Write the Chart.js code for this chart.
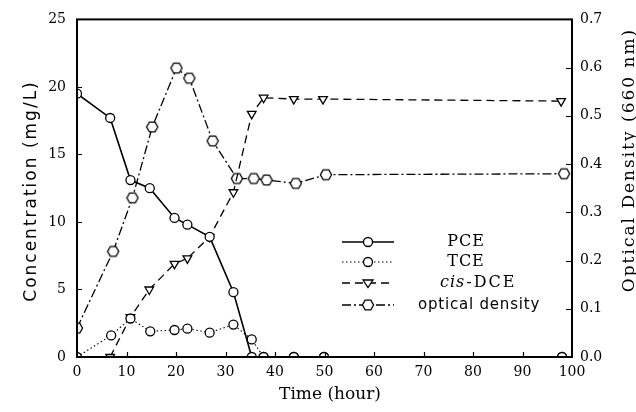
<!DOCTYPE html>
<html>
<head>
<meta charset="utf-8">
<script src="https://cdn.jsdelivr.net/npm/chart.js@4.4.1/dist/chart.umd.min.js"></script>
<style>
  html, body { margin: 0; padding: 0; background: #fff; overflow: hidden; }
  canvas { display: block; background: #fff; }
</style>
</head>
<body>
<canvas id="chart" width="636" height="412"></canvas>
<script>
// values (time in hours)
const pceTime = [0, 6.7, 10.8, 14.7, 19.7, 22.3, 26.8, 31.6, 35.3, 37.7, 43.8, 49.9, 98];
const pceConc = [19.5, 17.7, 13.1, 12.5, 10.3, 9.8, 8.9, 4.8, 0, 0, 0, 0, 0];

const tceTime = [0, 6.9, 10.8, 14.8, 19.7, 22.3, 26.8, 31.6, 35.3, 37.7, 43.8, 49.9, 98];
const tceConc = [0, 1.6, 2.85, 1.9, 2.0, 2.1, 1.8, 2.4, 1.3, 0, 0, 0, 0];

const dceTime = [6.7, 10.8, 14.6, 19.7, 22.3, 26.8, 31.6, 35.3, 37.7, 43.8, 49.7, 97.8];
const dceConc = [0, 2.95, 5.0, 6.9, 7.3, 8.9, 12.2, 18.0, 19.2, 19.1, 19.1, 18.95];

const odTime = [0, 7.3, 11.2, 15.2, 20.1, 22.7, 27.4, 32.3, 35.7, 38.3, 44.2, 50.3, 98.4];
const odValue = [0.06, 0.219, 0.33, 0.477, 0.599, 0.578, 0.448, 0.37, 0.37, 0.367, 0.36, 0.378, 0.38];

const timeTicks = [0, 10, 20, 30, 40, 50, 60, 70, 80, 90, 100];
const concTicks = [0, 5, 10, 15, 20, 25];
const odTicks = [0, 0.1, 0.2, 0.3, 0.4, 0.5, 0.6, 0.7];

const toPoints = (xs, ys) => xs.map((x, i) => ({ x: x, y: ys[i] }));

// hexagon marker for optical density
const hexMarker = document.createElement("canvas");
hexMarker.width = 14;
hexMarker.height = 14;
(function () {
  const c = hexMarker.getContext("2d");
  const r = 5.6;
  c.beginPath();
  for (let k = 0; k < 6; k++) {
    const a = (Math.PI / 3) * k;
    const px = 7 + r * Math.cos(a);
    const py = 7 + r * Math.sin(a);
    if (k === 0) c.moveTo(px, py); else c.lineTo(px, py);
  }
  c.closePath();
  c.fillStyle = "#fff";
  c.fill();
  c.lineWidth = 1.3;
  c.strokeStyle = "#000";
  c.stroke();
})();

const serif = "'DejaVu Serif', serif";
const sans = "'DejaVu Sans', sans-serif";

const pointStyleFor = {
  circle: { pointStyle: "circle", pointRadius: 4.5, pointRotation: 0 },
  tri: { pointStyle: "triangle", pointRadius: 5, pointRotation: 180 },
  hex: { pointStyle: hexMarker, pointRadius: 6, pointRotation: 0 },
};

function series(data, yAxisID, width, dash, marker) {
  return Object.assign({
    data: data,
    yAxisID: yAxisID,
    borderColor: "#000",
    borderWidth: width,
    borderDash: dash,
    tension: 0,
    fill: false,
    pointBackgroundColor: "#fff",
    pointBorderColor: "#000",
    pointBorderWidth: 1.3,
  }, pointStyleFor[marker]);
}

const legendItems = [
  { label: "PCE", y: 242, width: 1.6, dash: [], marker: "circle" },
  { label: "TCE", y: 262, width: 1.1, dash: [1.5, 2.5], marker: "circle" },
  { label: "cis-DCE", y: 283, width: 1.3, dash: [8, 5], marker: "tri" },
  { label: "optical density", y: 305, width: 1.3, dash: [9, 3, 2, 3], marker: "hex" },
];

function drawMarker(ctx, kind, x, y) {
  if (kind === "hex") {
    ctx.drawImage(hexMarker, x - 7, y - 7);
    return;
  }
  ctx.save();
  ctx.setLineDash([]);
  ctx.fillStyle = "#fff";
  ctx.strokeStyle = "#000";
  ctx.lineWidth = 1.3;
  ctx.beginPath();
  if (kind === "tri") {
    ctx.moveTo(x - 5, y - 3);
    ctx.lineTo(x + 5, y - 3);
    ctx.lineTo(x, y + 4.5);
    ctx.closePath();
  } else {
    ctx.arc(x, y, 4.5, 0, Math.PI * 2);
  }
  ctx.fill();
  ctx.stroke();
  ctx.restore();
}

const decorations = {
  id: "decorations",
  afterDraw(chart) {
    const { ctx, chartArea: a, scales } = chart;
    ctx.save();

    // frame
    ctx.strokeStyle = "#000";
    ctx.lineWidth = 2;
    ctx.strokeRect(a.left, a.top, a.right - a.left, a.bottom - a.top);

    // inner ticks
    ctx.lineWidth = 1.2;
    ctx.beginPath();
    timeTicks.forEach((v) => {
      if (v <= 0 || v >= 100) return;
      const px = Math.round(scales.x.getPixelForValue(v)) + 0.5;
      ctx.moveTo(px, a.bottom);
      ctx.lineTo(px, a.bottom - 5);
    });
    concTicks.forEach((v) => {
      if (v <= 0 || v >= 25) return;
      const py = Math.round(scales.y.getPixelForValue(v)) + 0.5;
      ctx.moveTo(a.left, py);
      ctx.lineTo(a.left + 5, py);
    });
    odTicks.forEach((v) => {
      if (v <= 0 || v >= 0.7) return;
      const py = Math.round(scales.y1.getPixelForValue(v)) + 0.5;
      ctx.moveTo(a.right, py);
      ctx.lineTo(a.right - 6, py);
    });
    ctx.stroke();

    // axis titles
    ctx.fillStyle = "#000";
    ctx.textAlign = "center";
    ctx.textBaseline = "middle";

    ctx.font = "17px " + serif;
    ctx.letterSpacing = "0px";
    ctx.fillText("Time (hour)", 330, 395);

    ctx.save();
    ctx.translate(32, 191);
    ctx.rotate(-Math.PI / 2);
    ctx.font = "17px " + sans;
    ctx.letterSpacing = "2px";
    ctx.fillText("Concentration (mg/L)", 0, 0);
    ctx.restore();

    ctx.save();
    ctx.translate(630, 160);
    ctx.rotate(-Math.PI / 2);
    ctx.font = "17px " + serif;
    ctx.letterSpacing = "2px";
    ctx.fillText("Optical Density (660 nm)", 0, 0);
    ctx.restore();

    // legend
    ctx.letterSpacing = "0px";
    legendItems.forEach((item) => {
      ctx.save();
      ctx.lineWidth = item.width;
      ctx.setLineDash(item.dash);
      ctx.beginPath();
      ctx.moveTo(342, item.y);
      ctx.lineTo(394, item.y);
      ctx.stroke();
      ctx.restore();
      drawMarker(ctx, item.marker, 368, item.y);

      ctx.textAlign = "left";
      if (item.label === "cis-DCE") {
        ctx.font = "italic 16px " + serif;
        ctx.letterSpacing = "1px";
        ctx.fillText("cis", 440, item.y);
        const w = ctx.measureText("cis").width;
        ctx.font = "16px " + serif;
        ctx.letterSpacing = "2px";
        ctx.fillText("-DCE", 440 + w + 1, item.y);
      } else if (item.label === "optical density") {
        ctx.font = "15px " + sans;
        ctx.letterSpacing = "0.8px";
        ctx.fillText(item.label, 418, item.y);
      } else {
        ctx.font = "16px " + serif;
        ctx.letterSpacing = "1px";
        ctx.textAlign = "center";
        ctx.fillText(item.label, 466, item.y);
      }
      ctx.letterSpacing = "0px";
    });

    ctx.restore();
  },
};

const tickFont = { family: serif, size: 14 };

new Chart(document.getElementById("chart"), {
  type: "line",
  data: {
    datasets: [
      series(toPoints(pceTime, pceConc), "y", 1.6, [], "circle"),
      series(toPoints(tceTime, tceConc), "y", 1.1, [1.5, 2.5], "circle"),
      series(toPoints(dceTime, dceConc), "y", 1.3, [8, 5], "tri"),
      series(toPoints(odTime, odValue), "y1", 1.3, [9, 3, 2, 3], "hex"),
    ],
  },
  options: {
    responsive: false,
    animation: false,
    layout: { padding: { top: 18, left: 0, right: 0, bottom: 0 } },
    plugins: {
      legend: { display: false },
      tooltip: { enabled: false },
    },
    scales: {
      x: {
        type: "linear",
        min: 0,
        max: 100,
        afterBuildTicks: (s) => { s.ticks = timeTicks.map((v) => ({ value: v })); },
        afterFit: (s) => { s.height = 55; },
        ticks: { font: tickFont, color: "#000", padding: 7, maxRotation: 0, autoSkip: false },
        grid: { display: false, drawTicks: false },
        border: { display: false },
      },
      y: {
        position: "left",
        min: 0,
        max: 25,
        afterBuildTicks: (s) => { s.ticks = concTicks.map((v) => ({ value: v })); },
        afterFit: (s) => { s.width = 77; },
        ticks: { font: tickFont, color: "#000", padding: 11 },
        grid: { display: false, drawTicks: false },
        border: { display: false },
      },
      y1: {
        position: "right",
        min: 0,
        max: 0.7,
        afterBuildTicks: (s) => { s.ticks = odTicks.map((v) => ({ value: v })); },
        afterFit: (s) => { s.width = 64; },
        ticks: { font: tickFont, color: "#000", padding: 8, callback: (v) => Number(v).toFixed(1) },
        grid: { display: false, drawTicks: false },
        border: { display: false },
      },
    },
  },
  plugins: [decorations],
});
</script>
</body>
</html>
